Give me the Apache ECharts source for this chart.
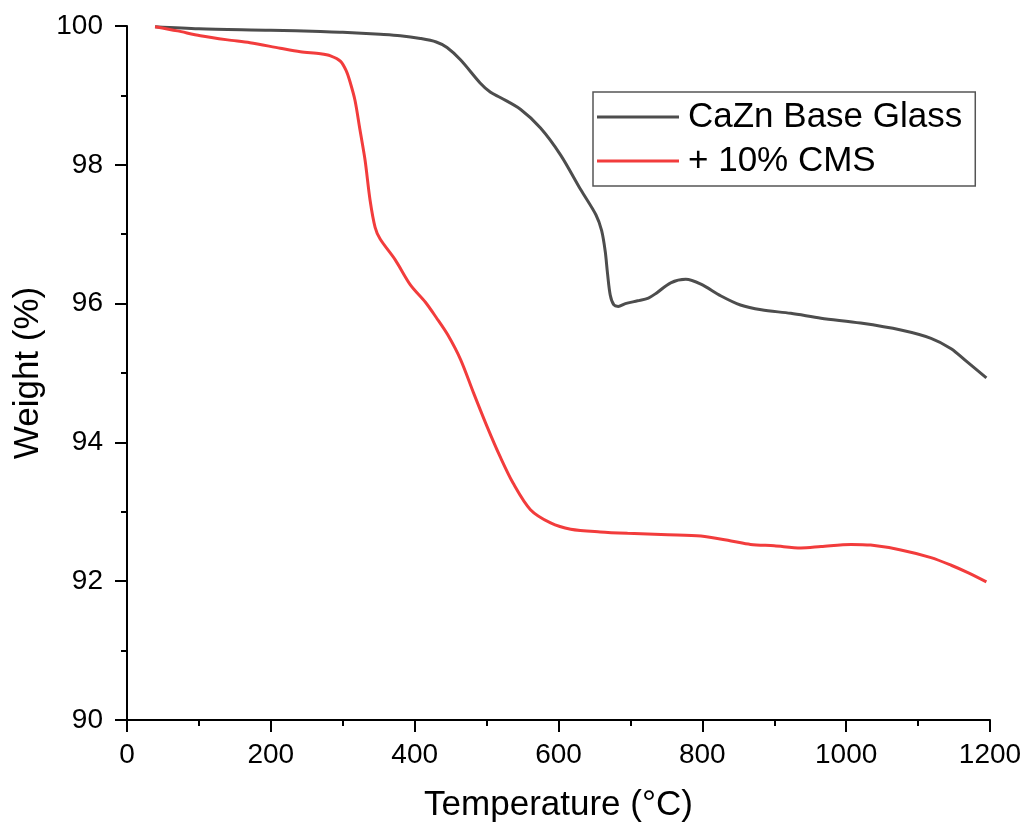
<!DOCTYPE html>
<html>
<head>
<meta charset="utf-8">
<title>TGA</title>
<script src="https://cdn.jsdelivr.net/npm/echarts@6/dist/echarts.min.js"></script>
<style>
  html, body { margin: 0; padding: 0; background: #fff; }
  #chart { width: 1025px; height: 829px; }
</style>
</head>
<body>
<div id="chart"></div>
<script>
// Thermogravimetric curves: temperature (°C) vs. remaining weight (%)
const seriesNames = ['CaZn Base Glass', '+ 10% CMS'];

const baseTemp = [39, 100, 200, 269, 300, 352, 380, 408, 430, 445, 464, 491, 505, 519, 547, 575, 603, 631, 652, 660, 665, 668, 672, 677, 683, 693, 710, 725, 736, 756, 777, 798, 826, 853, 882, 923, 965, 1020, 1076, 1118, 1146, 1167, 1195];
const baseWeight = [99.99, 99.96, 99.94, 99.92, 99.91, 99.88, 99.86, 99.82, 99.77, 99.69, 99.51, 99.18, 99.05, 98.97, 98.80, 98.53, 98.14, 97.64, 97.28, 97.05, 96.75, 96.45, 96.12, 95.98, 95.96, 96.00, 96.04, 96.08, 96.15, 96.30, 96.35, 96.28, 96.11, 95.98, 95.91, 95.86, 95.79, 95.72, 95.62, 95.50, 95.35, 95.17, 94.93];

const cmsTemp = [39, 70, 102, 140, 171, 213, 241, 269, 283, 297, 305, 310, 317, 324, 331, 338, 345, 352, 373, 394, 415, 430, 446, 464, 482, 501, 519, 537, 561, 589, 617, 658, 696, 752, 798, 840, 867, 900, 937, 965, 1007, 1034, 1076, 1118, 1146, 1170, 1195];
const cmsWeight = [99.99, 99.93, 99.86, 99.80, 99.76, 99.68, 99.63, 99.60, 99.57, 99.49, 99.35, 99.20, 98.93, 98.50, 98.07, 97.49, 97.10, 96.93, 96.63, 96.27, 96.02, 95.80, 95.55, 95.19, 94.71, 94.22, 93.79, 93.41, 93.03, 92.84, 92.75, 92.71, 92.69, 92.67, 92.65, 92.58, 92.53, 92.51, 92.48, 92.50, 92.53, 92.52, 92.45, 92.34, 92.23, 92.12, 91.99];

const xTickLabels = ['0', '200', '400', '600', '800', '1000', '1200'];
const yTickLabels = ['90', '92', '94', '96', '98', '100'];

const colors = ['#4d4d4d', '#f23c3c'];
const font = "'Liberation Sans', Arial, sans-serif";

function pairs(xs, ys) { return xs.map((x, i) => [x, ys[i]]); }

const axisCommon = {
  axisLine: { show: true, onZero: false, lineStyle: { color: '#000', width: 2 } },
  axisTick: { show: true, inside: false, length: 12, lineStyle: { color: '#000', width: 2 } },
  minorTick: { show: true, splitNumber: 2, length: 6, lineStyle: { color: '#000', width: 2 } },
  splitLine: { show: false },
  nameLocation: 'middle',
  nameTextStyle: { fontFamily: font, fontSize: 35, color: '#000' }
};

const chart = echarts.init(document.getElementById('chart'), null, { renderer: 'canvas' });
chart.setOption({
  backgroundColor: '#fff',
  animation: false,
  grid: { left: 127, right: 35, top: 26, bottom: 109, containLabel: false },
  xAxis: Object.assign({}, axisCommon, {
    type: 'value', min: 0, max: 1200, interval: 200,
    name: 'Temperature (°C)', nameGap: 68,
    axisLabel: { fontFamily: font, fontSize: 28, color: '#000', margin: 21,
      formatter: (v) => xTickLabels[Math.round(v / 200)] }
  }),
  yAxis: Object.assign({}, axisCommon, {
    type: 'value', min: 90, max: 100, interval: 2,
    name: 'Weight (%)', nameGap: 81,
    axisLabel: { fontFamily: font, fontSize: 28, color: '#000', margin: 24,
      formatter: (v) => yTickLabels[Math.round((v - 90) / 2)] }
  }),
  legend: {
    orient: 'vertical', left: 593, top: 92,
    icon: 'rect', itemWidth: 82, itemHeight: 3, itemGap: 4,
    borderColor: '#555', borderWidth: 1.5, padding: [5, 13, 5, 4],
    textStyle: { fontFamily: font, fontSize: 35, color: '#000', lineHeight: 40, padding: [0, 0, 0, 4] },
    data: seriesNames
  },
  series: [
    { name: seriesNames[0], type: 'line', data: pairs(baseTemp, baseWeight), showSymbol: false, symbol: 'none',
      smooth: 0.3, lineStyle: { color: colors[0], width: 3 }, itemStyle: { color: colors[0] } },
    { name: seriesNames[1], type: 'line', data: pairs(cmsTemp, cmsWeight), showSymbol: false, symbol: 'none',
      smooth: 0.3, lineStyle: { color: colors[1], width: 3 }, itemStyle: { color: colors[1] } }
  ]
});
</script>
</body>
</html>
